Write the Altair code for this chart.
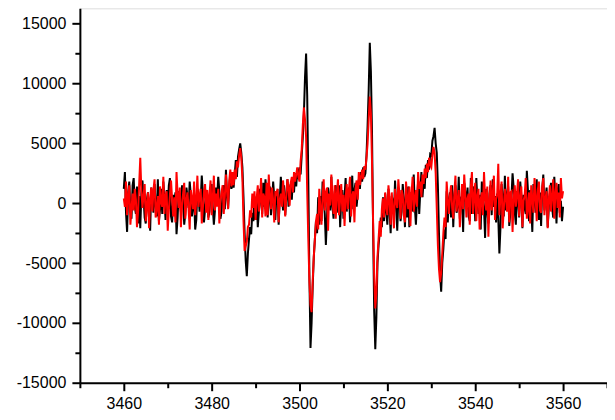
import altair as alt
import numpy as np
import pandas as pd

field_start = 3460
field_end = 3560

black_vals = [
    1200, 2600, -800, -2400, 900, 1800, -600, -1300, 1500, 2100, -300, -900, 1400, -1700, 600, -2100, 800, 1900, 400, -1200,
    -1700, 300, 900, -600, -2300, 1300, 500, -800, 1600, -200, -1100, 2000, -1500, -500, 1200, -900, 1800, 300, -1400, 1100,
    -600, 1500, 2100, -1100, -1600, 700, -200, 900, -2600, -1200, 1000, 400, -700, 1500, 200, -1800, -900, 1300, 600, -400,
    1800, 700, -1100, -300, 500, -2200, -1400, 1200, 800, -700, 200, 2300, 900, -1600, -500, 1100, 500, -1200, -700, 1000,
    1600, -300, -1800, -600, 1300, 400, 2200, 1000, -1300, -700, 900, 1500, -500, 2800, 600, -400, 1400, 2300, 1200, 1900,
    1300, 2400, 3600, 2200, 3900, 4500, 5000, 4200, 3000, 500, -2500, -4800, -6100, -4200, -3000, -2000, -2600, -800, -1500, 300,
    -1400, 600, -2000, -700, 1200, 300, -900, 1700, -300, 2000, 800, -1200, 400, 1400, -1000, 100, 1800, 500, -1400, 900,
    1000, -1800, 300, 2200, 700, -600, 1500, -1000, 500, 2000, -300, 1200, 1600, 300, 2100, 900, 2500, 1400, 2900, 2000,
    3000, 2400, 4000, 5500, 7500, 10500, 12500, 9000, 2000, -6000, -12100, -10000, -7000, -4500, -3000, -1500, -2500, 500, -1800, 600,
    -1500, 1800, 300, -900, -3500, -1200, 1300, 400, -600, 2200, -300, -1300, 900, 1500, -800, 600, 1500, -2000, 300, 1100,
    -1300, 500, 2100, -700, 900, 1300, -1600, 200, 2300, -500, 1100, 1700, -300, 800, 2000, 1200, 2600, 1800, 3000, 2200,
    2500, 4000, 6500, 9500, 13400, 11000, 6000, -2000, -9000, -12200, -9500, -5000, -3500, -2500, -1200, -2000, 500, -1500, 800, -600,
    -1800, 1200, -600, -2500, 600, 200, -1000, 1900, -400, -2300, 400, 1100, -1500, -700, 1600, 300, -2000, 900, -1200, 1400,
    -2000, 900, -500, -600, 2400, -300, -1800, 300, 1800, -900, 1000, 2600, 500, 1900, 1200, 3200, 2100, 3600, 2800, 4100,
    4000, 5200, 5600, 6300, 5000, 4200, 1500, -2500, -6000, -7400, -5000, -3800, -2200, -3000, 1000, -1600, 300, 900, -1200, 1500,
    -2000, 600, 1500, -800, -300, 2200, -1300, 400, 600, -2400, 1700, 900, -500, 1300, -1100, -1500, 2100, -900, 700, 1400,
    -1500, 2100, 200, -900, 700, -2200, 1800, 500, -400, -2900, 1200, -600, -1700, 800, 1500, -1000, 2000, -300, 600, -1600,
    800, -1200, -4200, -2000, 1600, 400, -1100, 2300, -600, 700, 1400, -1900, -800, 500, 2500, 1300, -700, -1800, 1000, 300,
    -1200, 1800, 600, -2100, 700, -400, -900, 2700, 1100, -1500, 1100, -300, -2400, 1600, 400, -800, 2000, -600, -1400, 900,
    -1900, 1200, 2400, -600, 300, 1300, -2000, -400, 800, 1700, -300, -1200, 2200, 500, -1700, 1000, 1600, -800, 200, -1500,
    -300,
]

red_vals = [
    400, -300, 1800, -1000, 600, 1500, -1800, -500, 800, -600, 1200, 300, -2000, -700, 1600, 3800, 1000, -400, 700, 1600,
    -1500, -200, 900, -2100, 400, 1300, -700, 1100, 2000, -1200, -400, 600, -1800, 1400, 100, -300, 2200, -900, 600, 1000,
    -2300, -600, 700, 1900, 300, -1100, 500, -1600, 2600, 700, -400, 1300, -2000, -200, 800, 1700, -1300, 300, 900, -500,
    -2200, 1100, 400, -500, 1800, -1000, 200, 2300, -300, 600, 1200, -1700, -400, 900, 1600, -800, 1100, -1400, 700, 1900,
    -1000, 300, 2300, -600, 800, -300, 1200, -1700, 200, 900, 1500, -900, 600, 2400, 1000, -500, 1900, 2800, 1400, 2600,
    1500, 2800, 2000, 3500, 3000, 4000, 4600, 3800, 2000, -1500, -4000, -3600, -3200, -2000, -1800, -600, -1200, 800, -400, 1000,
    -1400, 400, 1500, -700, 300, 2100, -1200, 800, 500, -1100, 1700, -1000, 2400, 600, -500, 1300, 200, -1600, 1000, 800,
    1200, -1600, 300, 800, -300, 1900, 700, -1100, 600, 2000, 1300, -200, 1700, 2200, 900, 2600, 1800, 2400, 3000, 2200,
    1800, 3500, 4500, 6500, 8000, 7000, 5500, 1000, -3000, -6500, -8500, -9100, -6500, -4500, -3000, -1500, -900, -2200, 1200, -400,
    -1800, 500, 2000, -600, 900, 1300, -2300, 800, -200, 2400, 400, -900, 1500, -1300, 700, 2000, -1000, 300, 1600, -700,
    700, -1900, 400, 1600, -500, 1100, 2200, -1100, 600, 1000, -1600, 1200, 1900, 300, 2600, 1500, 2200, 2800, 2000, 3100,
    2800, 3800, 5000, 7000, 8900, 7500, 3500, -1500, -6000, -8800, -7500, -4500, -3000, -1500, -2800, -500, 400, -1200, 900, -300,
    -1000, 1500, 300, -1800, 900, -600, -2100, 1200, 200, -400, 2000, 700, -1300, 1100, 700, -1000, -1600, 1800, 400, -500,
    1400, -1900, 800, 2200, -700, 400, 1100, -300, 2600, 1200, 1800, 500, 2400, 1600, 2900, 2100, 3300, 2600, 3800, 3200,
    3000, 4000, 4700, 4200, 2500, -500, -3500, -5500, -6600, -5800, -4200, -2500, -1200, -2000, 1800, 200, -900, 600, 1500, -400,
    -1300, 800, 2300, -700, 300, 1100, -2000, -200, 1600, -500, 2400, 700, -1200, 400, 800, -1800, 1300, 2600, -900, 500,
    1700, -1500, 600, 1200, -2200, 300, 900, -1000, 2600, 400, -600, 1400, -2800, 100, 1900, -600, 700, 2300, -1400, 300,
    700, 3300, -1000, 600, 1800, -2100, -500, 1200, 400, -700, 2200, -1600, 900, 1000, -2400, 300, 1500, -300, 700, 2000,
    -1100, 400, 1400, -2000, 200, 600, 2100, -1300, -500, 900, -1700, 1500, 300, -800, 2100, 600, -1500, 1100, 1800, -600,
    -800, 1300, 2100, -1000, 400, 1000, -2100, 300, 1500, -700, 600, 2000, -1300, 800, 1700, -400, 900, -1200, 2100, 400,
    1000,
]

x_major = [3460, 3480, 3500, 3520, 3540, 3560]
x_minor = [3450, 3470, 3490, 3510, 3530, 3550, 3570]
y_major = [-15000, -10000, -5000, 0, 5000, 10000, 15000]
y_minor = [-12500, -7500, -2500, 2500, 7500, 12500]

rows = []
for name, vals in (("black", black_vals), ("red", red_vals)):
    xs = np.linspace(field_start, field_end, len(vals))
    for i, (xv, yv) in enumerate(zip(xs, vals)):
        rows.append({"series": name, "idx": i, "B": float(xv), "I": yv})
df = pd.DataFrame(rows)

xscale = alt.Scale(domain=[3450, 3570], nice=False, zero=False)
yscale = alt.Scale(domain=[-15000, 16280], nice=False, zero=False)

FONT = "Liberation Sans"

x_axis_major = alt.Axis(values=x_major, orient="bottom", title=None, grid=False,
                        domainColor="black", domainWidth=2, tickColor="black",
                        tickWidth=2, tickSize=8, labelFont=FONT, labelFontSize=16,
                        labelColor="black", labelPadding=5, labelExpr="'' + datum.value")
y_axis_major = alt.Axis(values=y_major, orient="left", title=None, grid=False,
                        domainColor="black", domainWidth=2, tickColor="black",
                        tickWidth=2, tickSize=8, labelFont=FONT, labelFontSize=16,
                        labelColor="black", labelPadding=6, labelExpr="'' + datum.value")
x_axis_minor = alt.Axis(values=x_minor, orient="bottom", title=None, grid=False,
                        domain=False, labels=False, tickColor="black", tickWidth=2,
                        tickSize=5)
y_axis_minor = alt.Axis(values=y_minor, orient="left", title=None, grid=False,
                        domain=False, labels=False, tickColor="black", tickWidth=2,
                        tickSize=5)

black_line = alt.Chart(df).transform_filter(alt.datum.series == "black").mark_line(
    color="#000000", strokeWidth=2, clip=True
).encode(
    x=alt.X("B:Q", scale=xscale, axis=x_axis_major),
    y=alt.Y("I:Q", scale=yscale, axis=y_axis_major),
    order="idx:Q",
)

red_line = alt.Chart(df).transform_filter(alt.datum.series == "red").mark_line(
    color="#FF0000", strokeWidth=2, clip=True
).encode(
    x=alt.X("B:Q", scale=xscale, axis=x_axis_minor),
    y=alt.Y("I:Q", scale=yscale, axis=y_axis_minor),
    order="idx:Q",
)

chart = alt.layer(black_line, red_line).resolve_axis(
    x="independent", y="independent"
).properties(
    width=528,
    height=375,
    autosize=alt.AutoSizeParams(type="none"),
    padding={"left": 72, "top": 0, "right": 0, "bottom": 37},
).configure_view(stroke=None).configure(background="white")

chart.save("out.html", embed_options={"renderer": "svg", "actions": False})
